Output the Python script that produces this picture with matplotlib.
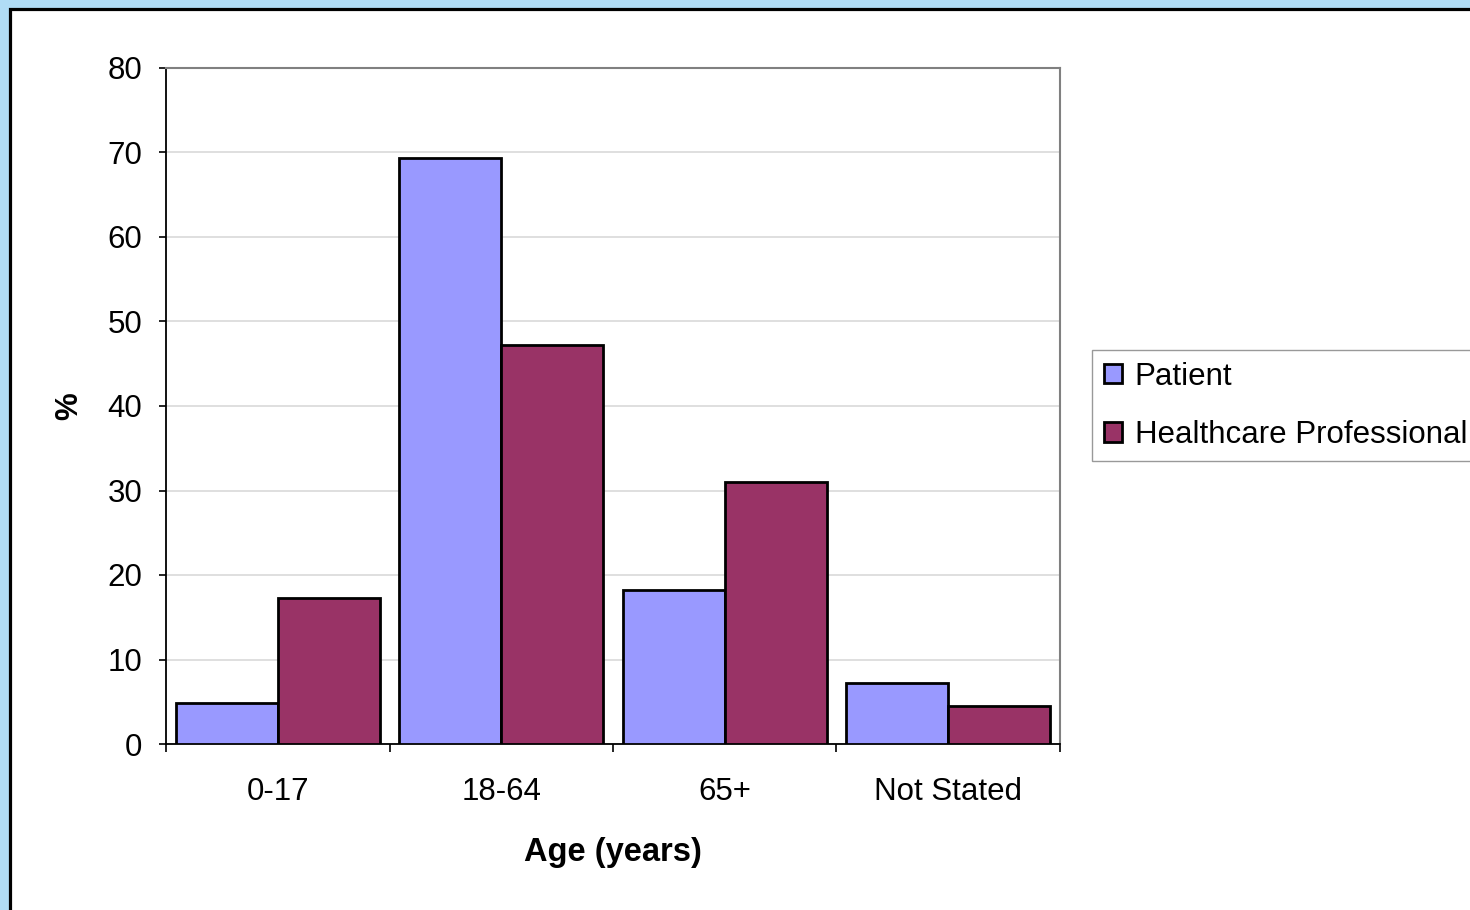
import matplotlib
matplotlib.use("Agg")
import matplotlib.pyplot as plt
from matplotlib.patches import Rectangle
import numpy as np

categories = ["0-17", "18-64", "65+", "Not Stated"]
patient = [4.8, 69.3, 18.2, 7.2]
healthcare = [17.3, 47.2, 31.0, 4.5]
series_names = ["Patient", "Healthcare Professional"]
yticks = [0, 10, 20, 30, 40, 50, 60, 70, 80]

plt.rcParams['font.family'] = ['Liberation Sans', 'DejaVu Sans']

W, H = 1470, 910
FS = 22.5
fig = plt.figure(figsize=(W / 100, H / 100), dpi=100, facecolor="#B0DCF5")

# white panel with black border
panel = Rectangle((9.5 / W, -0.1), 1.2, 1 - 9.5 / H + 0.1, transform=fig.transFigure,
                  facecolor="white", edgecolor="black", linewidth=2.3, zorder=-5)
fig.patches.append(panel)

ax = fig.add_axes([166 / W, 1 - 744 / H, (1060 - 166) / W, (744 - 68) / H])
ax.set_facecolor("white")

x = np.arange(len(categories))
bw = 0.456
ax.bar(x - bw / 2, patient, width=bw, color="#9999FF", edgecolor="black", linewidth=2.0,
       label=series_names[0], zorder=3)
ax.bar(x + bw / 2, healthcare, width=bw, color="#993366", edgecolor="black", linewidth=2.0,
       label=series_names[1], zorder=3)

ax.set_xlim(-0.5, len(categories) - 0.5)
ax.set_ylim(0, 80)
ax.set_yticks(yticks)
ax.yaxis.grid(True, color="#D9D9D9", linewidth=1.2, zorder=0)
ax.set_axisbelow(True)

# category boundaries as major ticks, labels as minor ticks at centers
ax.set_xticks(np.arange(-0.5, len(categories), 1.0))
ax.set_xticklabels([])
ax.set_xticks(x, minor=True)
ax.set_xticklabels(categories, minor=True)
ax.tick_params(axis="x", which="major", direction="out", length=6, width=1.2, color="black")
ax.tick_params(axis="x", which="minor", length=0, pad=23.5, labelsize=FS)
ax.tick_params(axis="y", direction="out", length=5, width=1.2, color="black", pad=12, labelsize=FS)

for s in ["top", "right"]:
    ax.spines[s].set_color("#808080")
    ax.spines[s].set_linewidth(1.5)
for s in ["left", "bottom"]:
    ax.spines[s].set_color("black")
    ax.spines[s].set_linewidth(1.3)

ax.set_xlabel("Age (years)", fontsize=23.5, fontweight="bold", labelpad=22)
ax.set_ylabel("%", fontsize=FS, fontweight="bold", labelpad=17)

leg = fig.legend(loc="upper left", bbox_to_anchor=(1092 / W, 1 - 350 / H), borderaxespad=0,
                 fontsize=FS, frameon=True, fancybox=False, edgecolor="#808080",
                 handlelength=0.6, handleheight=0.6, handletextpad=0.4,
                 labelspacing=0.9, borderpad=0.37)
leg.get_frame().set_linewidth(1.0)

fig.savefig("out.png", dpi=100, facecolor=fig.get_facecolor())
